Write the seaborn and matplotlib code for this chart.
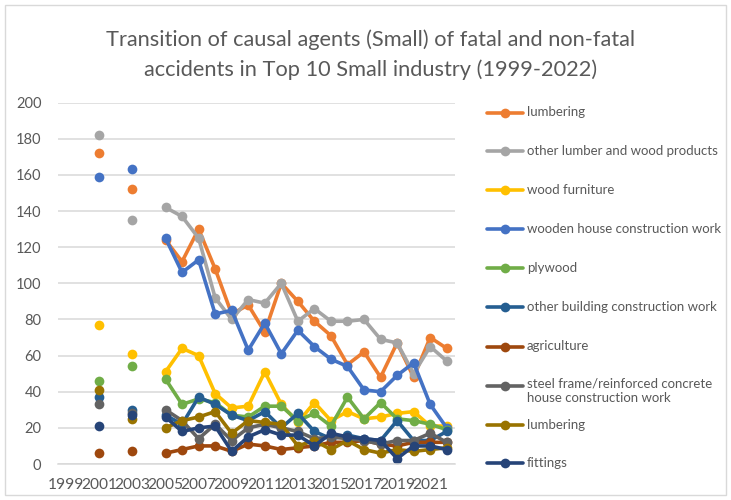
import matplotlib
matplotlib.use("Agg")
import matplotlib.pyplot as plt
import seaborn as sns
import pandas as pd
from matplotlib.lines import Line2D
from matplotlib.patches import Rectangle

# ---------------- data ----------------
years = [2001, 2003, 2005, 2006, 2007, 2008, 2009, 2010, 2011, 2012,
         2013, 2014, 2015, 2016, 2017, 2018, 2019, 2020, 2021, 2022]

series_labels = [
    "lumbering",
    "other lumber and wood products",
    "wood furniture",
    "wooden house construction work",
    "plywood",
    "other building construction work",
    "agriculture",
    "steel frame/reinforced concrete\nhouse construction work",
    "lumbering",
    "fittings",
]

lumbering = [172, 152, 124, 112, 130, 108, 83, 88, 73, 100, 90, 79, 71, 55, 62, 48, 67, 48, 70, 64]
other_lumber = [182, 135, 142, 137, 125, 92, 80, 91, 89, 100, 79, 86, 79, 79, 80, 69, 67, 50, 65, 57]
wood_furniture = [77, 61, 51, 64, 60, 39, 31, 32, 51, 33, 23, 34, 24, 29, 25, 26, 28, 29, 21, 21]
wooden_house = [159, 163, 125, 106, 113, 83, 85, 63, 78, 61, 74, 65, 58, 54, 41, 40, 49, 56, 33, 20]
plywood = [46, 54, 47, 33, 36, 34, 27, 26, 32, 32, 24, 28, 21, 37, 25, 34, 25, 24, 22, 19]
other_building = [37, 30, 27, 22, 37, 33, 27, 24, 29, 20, 28, 18, 14, 16, 14, 13, 24, 13, 13, 18]
agriculture = [6, 7, 6, 8, 10, 10, 7, 11, 10, 8, 9, 10, 12, 12, 13, 11, 10, 12, 12, 12]
steel_frame = [33, 28, 30, 24, 14, 22, 13, 20, 22, 20, 18, 14, 15, 14, 13, 11, 13, 13, 17, 12]
lumbering_2 = [41, 25, 20, 24, 26, 29, 17, 24, 23, 22, 10, 13, 8, 13, 8, 6, 8, 7, 8, 9]
fittings = [21, 27, 26, 18, 20, 21, 7, 15, 19, 16, 16, 10, 17, 15, 14, 13, 3, 10, 10, 8]

all_values = [lumbering, other_lumber, wood_furniture, wooden_house, plywood,
              other_building, agriculture, steel_frame, lumbering_2, fittings]

colors = ["#ED7D31", "#A5A5A5", "#FFC000", "#4472C4", "#70AD47",
          "#255E91", "#9E480E", "#636363", "#997300", "#264478"]

x_tick_years = [1999, 2001, 2003, 2005, 2007, 2009, 2011, 2013, 2015, 2017, 2019, 2021]
y_ticks = [0, 20, 40, 60, 80, 100, 120, 140, 160, 180, 200]

# ---------------- long table (segments break at missing years) ----------------
rows = []
for i, vals in enumerate(all_values):
    seg = 0
    prev = None
    for yr, v in zip(years, vals):
        if prev is not None and yr - prev > 1:
            seg += 1
        rows.append({"year": yr, "value": v, "series": f"s{i}", "seg": f"s{i}_{seg}"})
        prev = yr
df = pd.DataFrame(rows)

# ---------------- figure ----------------
sns.set_theme(style="white")
plt.rcParams["font.family"] = ["Lato", "DejaVu Sans"]

W, H = 731, 500
fig = plt.figure(figsize=(W / 100, H / 100), dpi=100)
ax_left, ax_right, ax_top, ax_bottom = 58, 455, 102.6, 464
ax = fig.add_axes([ax_left / W, 1 - ax_bottom / H, (ax_right - ax_left) / W, (ax_bottom - ax_top) / H])

palette = {f"s{i}": c for i, c in enumerate(colors)}
sns.lineplot(data=df, x="year", y="value", hue="series", units="seg", estimator=None,
             palette=palette, hue_order=[f"s{i}" for i in range(10)],
             marker="o", markersize=7, markeredgewidth=0, linewidth=2.6,
             legend=False, ax=ax, sort=True)

ax.set_xlim(1998.5, 2022.5)
ax.set_ylim(0, 200)
ax.set_yticks(y_ticks)
ax.set_xticks(x_tick_years)
ax.set_xticklabels([str(y) for y in x_tick_years])
ax.set_xlabel("")
ax.set_ylabel("")
ax.yaxis.grid(True, color="#D9D9D9", linewidth=1.1)
ax.set_axisbelow(True)
for s in ["top", "right", "left"]:
    ax.spines[s].set_visible(False)
ax.spines["bottom"].set_color("#D9D9D9")
ax.spines["bottom"].set_linewidth(1.1)
ax.tick_params(axis="x", length=0, pad=10, labelsize=11.2, labelcolor="#595959")
ax.tick_params(axis="y", length=0, pad=12, labelsize=10.5, labelcolor="#595959")

# title
fig.text(371 / W, 1 - 40 / H, "Transition of causal agents (Small) of fatal and non-fatal",
         ha="center", va="center", fontsize=15.7, color="#595959")
fig.text(371 / W, 1 - 70 / H, "accidents in Top 10 Small industry (1999-2022)",
         ha="center", va="center", fontsize=15.7, color="#595959")

# legend (manual placement)
legend_y = [112.5, 151.5, 190, 228.5, 267.5, 306.7, 346.5, 386, 424.7, 463.3]
for lab, col, ly in zip(series_labels, colors, legend_y):
    fig.add_artist(Line2D([487 / W, 523 / W], [1 - ly / H, 1 - ly / H], color=col,
                          linewidth=2.6, transform=fig.transFigure))
    fig.add_artist(Line2D([505 / W], [1 - ly / H], color=col, marker="o", markersize=7,
                          markeredgewidth=0, transform=fig.transFigure))
    if "\n" in lab:
        fig.text(527 / W, 1 - (ly - 8.5) / H, lab, ha="left", va="top",
                 fontsize=9.5, color="#595959", linespacing=1.3)
    else:
        fig.text(527 / W, 1 - ly / H, lab, ha="left", va="center",
                 fontsize=9.5, color="#595959")

# chart border
fig.add_artist(Rectangle((5 / W, 5 / H), (W - 10) / W, (H - 10) / H, transform=fig.transFigure,
                         fill=False, edgecolor="#D9D9D9", linewidth=1))

fig.savefig("out.png", dpi=100)
